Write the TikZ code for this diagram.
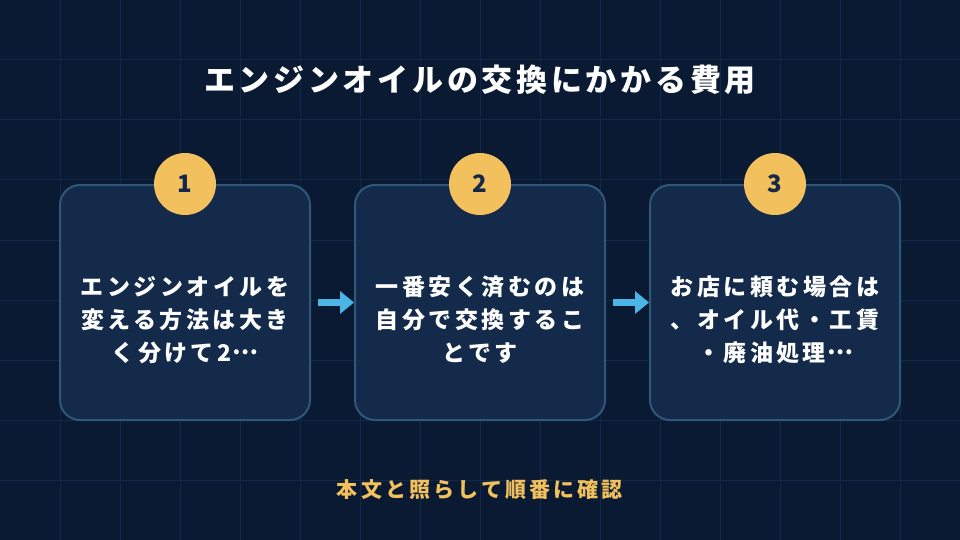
\documentclass[tikz,border=0pt]{standalone}
\usepackage{fontspec}
\setmainfont{Noto Sans CJK JP}
\newfontfamily\jptitle[LetterSpace=12]{Noto Sans CJK JP}
\newfontfamily\jpbox[LetterSpace=15]{Noto Sans CJK JP}
\newfontfamily\jpfoot[LetterSpace=15]{Noto Sans CJK JP}
\newcommand{\jpell}{\hspace{0.05em}\raisebox{0.3em}{…}}
\usetikzlibrary{arrows.meta}
\definecolor{bg}{HTML}{0A1A33}
\definecolor{gridc}{HTML}{12284A}
\definecolor{boxfill}{HTML}{132A4A}
\definecolor{boxline}{HTML}{2E5779}
\definecolor{badge}{HTML}{F2C05C}
\definecolor{badgetext}{HTML}{13284A}
\definecolor{arrowc}{HTML}{4BB6E6}
\tikzset{
  stepbox/.style={draw=boxline, line width=2pt, fill=boxfill, rounded corners=20pt,
    minimum width=250pt, minimum height=235pt, inner sep=0pt},
  badgenode/.style={circle, fill=badge, minimum size=62pt, inner sep=0pt,
    text=badgetext, font=\bfseries\fontsize{24}{28}\selectfont},
  boxtext/.style={text=white, align=center, font=\jpbox\bfseries\fontsize{23}{33}\selectfont},
  flow/.style={draw=arrowc, line width=7pt, -{Triangle[length=14pt,width=22pt]}},
}
\begin{document}
\begin{tikzpicture}[x=1pt,y=-1pt]
\useasboundingbox (0,0) rectangle (960,540);
\fill[bg] (0,0) rectangle (960,540);
\foreach \gx in {60,120,...,900} \draw[gridc, line width=1pt] (\gx,0) -- (\gx,540);
\foreach \gy in {60,120,...,480} \draw[gridc, line width=1pt] (0,\gy) -- (960,\gy);

\node[text=white, font=\jptitle\bfseries\fontsize{31}{36}\selectfont] (title) at (480,80) {エンジンオイルの交換にかかる費用};

\node[stepbox] (b1) at (185,302.5) {};
\node[stepbox] (b2) at (480,302.5) {};
\node[stepbox] (b3) at (775,302.5) {};

\node[badgenode] (n1) at (b1.north) {1};
\node[badgenode] (n2) at (b2.north) {2};
\node[badgenode] (n3) at (b3.north) {3};

\node[boxtext] (t1) at (185,320) {エンジンオイルを\\変える方法は大き\\く分けて2\jpell};
\node[boxtext] (t2) at (480,320) {一番安く済むのは\\自分で交換するこ\\とです};
\node[boxtext] (t3) at (775,320) {お店に頼む場合は\\、オイル代・工賃\\・廃油処理\jpell};

\draw[flow] ([xshift=7pt]b1.east) -- (b2.west);
\draw[flow] ([xshift=7pt]b2.east) -- (b3.west);

\node[text=badge, font=\jpfoot\bfseries\fontsize{21}{24}\selectfont] (foot) at (480,490) {本文と照らして順番に確認};
\end{tikzpicture}
\end{document}
